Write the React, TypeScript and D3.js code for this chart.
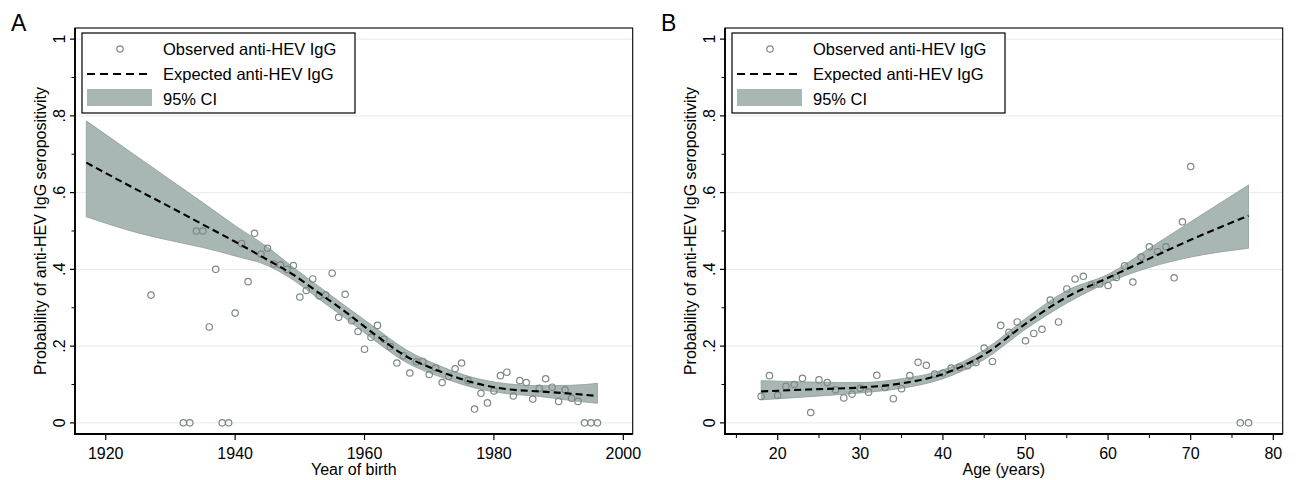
import * as d3 from "d3";

// ---- panel A: year of birth ----
const birthYears = [1927, 1932, 1933, 1934, 1935, 1936, 1937, 1938, 1939, 1940, 1941, 1942, 1943, 1944, 1945, 1946, 1947, 1948, 1949, 1950, 1951, 1952, 1953, 1954, 1955, 1956, 1957, 1958, 1959, 1960, 1961, 1962, 1963, 1964, 1965, 1966, 1967, 1968, 1969, 1970, 1971, 1972, 1973, 1974, 1975, 1976, 1977, 1978, 1979, 1980, 1981, 1982, 1983, 1984, 1985, 1986, 1987, 1988, 1989, 1990, 1991, 1992, 1993, 1994, 1995, 1996];
const observedByYear = [0.333, 0, 0, 0.5, 0.5, 0.25, 0.4, 0, 0, 0.286, 0.467, 0.368, 0.494, 0.44, 0.455, 0.414, 0.412, 0.4, 0.41, 0.328, 0.345, 0.375, 0.331, 0.333, 0.39, 0.275, 0.335, 0.266, 0.238, 0.192, 0.223, 0.254, 0.218, 0.199, 0.156, 0.175, 0.13, 0.159, 0.16, 0.126, 0.143, 0.105, 0.121, 0.141, 0.156, 0.11, 0.036, 0.077, 0.052, 0.083, 0.123, 0.132, 0.07, 0.11, 0.105, 0.062, 0.09, 0.115, 0.093, 0.056, 0.086, 0.064, 0.056, 0, 0, 0];

const fitYears = [1917, 1925, 1930, 1935, 1940, 1945, 1949, 1953, 1957, 1961, 1966.5, 1971.7, 1976.8, 1982, 1987, 1992, 1996];
const expectedByYear = [0.678, 0.606, 0.562, 0.517, 0.472, 0.425, 0.386, 0.338, 0.29, 0.238, 0.173, 0.134, 0.105, 0.088, 0.082, 0.076, 0.07];
const upperByYear = [0.787, 0.692, 0.633, 0.574, 0.514, 0.458, 0.405, 0.355, 0.305, 0.256, 0.19, 0.148, 0.118, 0.102, 0.097, 0.098, 0.103];
const lowerByYear = [0.537, 0.495, 0.475, 0.457, 0.435, 0.41, 0.372, 0.322, 0.273, 0.222, 0.157, 0.12, 0.092, 0.076, 0.069, 0.058, 0.051];

const yearTicks = [1920, 1940, 1960, 1980, 2000];

// ---- panel B: age ----
const ages = [18, 19, 20, 21, 22, 23, 24, 25, 26, 27, 28, 29, 30, 31, 32, 33, 34, 35, 36, 37, 38, 39, 40, 41, 42, 43, 44, 45, 46, 47, 48, 49, 50, 51, 52, 53, 54, 55, 56, 57, 58, 59, 60, 61, 62, 63, 64, 65, 66, 67, 68, 69, 70, 76, 77];
const observedByAge = [0.069, 0.123, 0.072, 0.095, 0.1, 0.116, 0.027, 0.112, 0.105, 0.086, 0.065, 0.075, 0.09, 0.08, 0.124, 0.092, 0.063, 0.089, 0.123, 0.158, 0.15, 0.127, 0.13, 0.143, 0.145, 0.149, 0.157, 0.195, 0.16, 0.254, 0.236, 0.263, 0.214, 0.233, 0.244, 0.32, 0.263, 0.349, 0.375, 0.382, 0.36, 0.362, 0.358, 0.379, 0.409, 0.367, 0.432, 0.459, 0.446, 0.459, 0.378, 0.524, 0.668, 0, 0];

const fitAges = [18, 25, 30, 35, 40, 45, 50, 55, 60, 65, 70, 77];
const expectedByAge = [0.082, 0.088, 0.092, 0.103, 0.127, 0.178, 0.258, 0.328, 0.378, 0.428, 0.477, 0.54];
const upperByAge = [0.11, 0.106, 0.105, 0.115, 0.138, 0.19, 0.272, 0.345, 0.387, 0.455, 0.524, 0.62];
const lowerByAge = [0.06, 0.07, 0.078, 0.09, 0.115, 0.165, 0.244, 0.312, 0.366, 0.405, 0.432, 0.455];

const ageTicks = [20, 30, 40, 50, 60, 70, 80];
const ageMinorTicks = [15, 25, 35, 45, 55, 65, 75];

const probTicks = [0, 0.2, 0.4, 0.6, 0.8, 1];
const probTickLabels = ["0", ".2", ".4", ".6", ".8", "1"];
const probMinorTicks = [0.1, 0.3, 0.5, 0.7, 0.9];

const legendLabels = ["Observed anti-HEV IgG", "Expected anti-HEV IgG", "95% CI"];

const FONT = "'Liberation Sans', Arial, Helvetica, sans-serif";
const CI_FILL = "#a9b7b4";
const CI_EDGE = "#8e9c99";
const MARKER = "#7d8886";
const GRID = "#e6ebea";

type PanelProps = {
  left: number;
  letter: string;
  xDomain: [number, number];
  xLabel: string;
  xTicks: number[];
  xMinor: number[];
  obsX: number[];
  obsY: number[];
  fitX: number[];
  fitY: number[];
  hi: number[];
  lo: number[];
};

function Panel({ left, letter, xDomain, xLabel, xTicks, xMinor, obsX, obsY, fitX, fitY, hi, lo }: PanelProps) {
  const width = 557.7;
  const top = 28;
  const bottom = 434;
  const right = left + width;

  const x = d3.scaleLinear().domain(xDomain).range([left, right]);
  const y = d3.scaleLinear().domain([-0.029, 1.029]).range([bottom, top]);

  const fit = fitX.map((v, i) => ({ x: v, y: fitY[i], hi: hi[i], lo: lo[i] }));

  const band = d3
    .area<{ x: number; hi: number; lo: number }>()
    .x(d => x(d.x))
    .y0(d => y(d.lo))
    .y1(d => y(d.hi))
    .curve(d3.curveMonotoneX);

  const line = d3
    .line<{ x: number; y: number }>()
    .x(d => x(d.x))
    .y(d => y(d.y))
    .curve(d3.curveMonotoneX);

  const lgX = left + 7;
  const lgY = 33;

  return (
    <g>
      <text x={left - 64} y={31} fontSize={23} fontFamily={FONT}>{letter}</text>

      {/* gridlines */}
      {probTicks.map(t => (
        <line key={"g" + t} x1={left} x2={right} y1={y(t)} y2={y(t)} stroke={GRID} strokeWidth={1} />
      ))}

      {/* CI band */}
      <path d={band(fit) || ""} fill={CI_FILL} stroke={CI_EDGE} strokeWidth={0.8} />

      {/* observed points */}
      {obsX.map((v, i) => (
        <circle key={"p" + i} cx={x(v)} cy={y(obsY[i])} r={3.2} fill="none" stroke={MARKER} strokeWidth={1.2} />
      ))}

      {/* expected */}
      <path d={line(fit) || ""} fill="none" stroke="#000" strokeWidth={2.1} strokeDasharray="7,4" />

      {/* frame */}
      <rect x={left} y={top} width={width} height={bottom - top} fill="none" stroke="#000" strokeWidth={1.1} />
      <line x1={left} x2={left} y1={top} y2={bottom + 1} stroke="#000" strokeWidth={1.8} />
      <line x1={left - 1} x2={right} y1={bottom} y2={bottom} stroke="#000" strokeWidth={1.8} />

      {/* y axis */}
      {probTicks.map((t, i) => (
        <g key={"yt" + t}>
          <line x1={left - 5} x2={left} y1={y(t)} y2={y(t)} stroke="#000" strokeWidth={1.2} />
          <text
            transform={`translate(${left - 10},${y(t)}) rotate(-90)`}
            textAnchor="middle"
            fontSize={16}
            fontFamily={FONT}
          >
            {probTickLabels[i]}
          </text>
        </g>
      ))}
      {probMinorTicks.map(t => (
        <line key={"ym" + t} x1={left - 3.5} x2={left} y1={y(t)} y2={y(t)} stroke="#000" strokeWidth={1} />
      ))}
      <text
        transform={`translate(${left - 29},${(top + bottom) / 2}) rotate(-90)`}
        textAnchor="middle"
        fontSize={16}
        fontFamily={FONT}
      >
        Probability of anti-HEV IgG seropositivity
      </text>

      {/* x axis */}
      {xTicks.map(t => (
        <g key={"xt" + t}>
          <line x1={x(t)} x2={x(t)} y1={bottom} y2={bottom + 6} stroke="#000" strokeWidth={1.2} />
          <text x={x(t)} y={459} textAnchor="middle" fontSize={16} fontFamily={FONT}>{t}</text>
        </g>
      ))}
      {xMinor.map(t => (
        <line key={"xm" + t} x1={x(t)} x2={x(t)} y1={bottom} y2={bottom + 4} stroke="#000" strokeWidth={1} />
      ))}
      <text x={(left + right) / 2} y={475} textAnchor="middle" fontSize={16} fontFamily={FONT}>{xLabel}</text>

      {/* legend */}
      <rect x={lgX} y={lgY} width={273} height={80} fill="#fff" stroke="#000" strokeWidth={1.2} />
      <circle cx={lgX + 38} cy={49} r={3.2} fill="none" stroke={MARKER} strokeWidth={1.2} />
      <line x1={lgX + 5} x2={lgX + 70} y1={74} y2={74} stroke="#000" strokeWidth={2.1} strokeDasharray="8,5" />
      <rect x={lgX + 5} y={89} width={65} height={17} fill={CI_FILL} />
      {legendLabels.map((l, i) => (
        <text key={l} x={lgX + 81} y={55 + i * 25} fontSize={16.5} fontFamily={FONT}>{l}</text>
      ))}
    </g>
  );
}

export default function App() {
  return (
    <svg
      width={1296}
      height={480}
      style={{ position: "absolute", left: 0, top: 0, background: "#fff" }}
    >
      <rect width={1296} height={480} fill="#fff" />
      <Panel
        left={75}
        letter="A"
        xDomain={[1915.25, 2001.45]}
        xLabel="Year of birth"
        xTicks={yearTicks}
        xMinor={[]}
        obsX={birthYears}
        obsY={observedByYear}
        fitX={fitYears}
        fitY={expectedByYear}
        hi={upperByYear}
        lo={lowerByYear}
      />
      <Panel
        left={725}
        letter="B"
        xDomain={[13.62, 81.14]}
        xLabel="Age (years)"
        xTicks={ageTicks}
        xMinor={ageMinorTicks}
        obsX={ages}
        obsY={observedByAge}
        fitX={fitAges}
        fitY={expectedByAge}
        hi={upperByAge}
        lo={lowerByAge}
      />
    </svg>
  );
}
